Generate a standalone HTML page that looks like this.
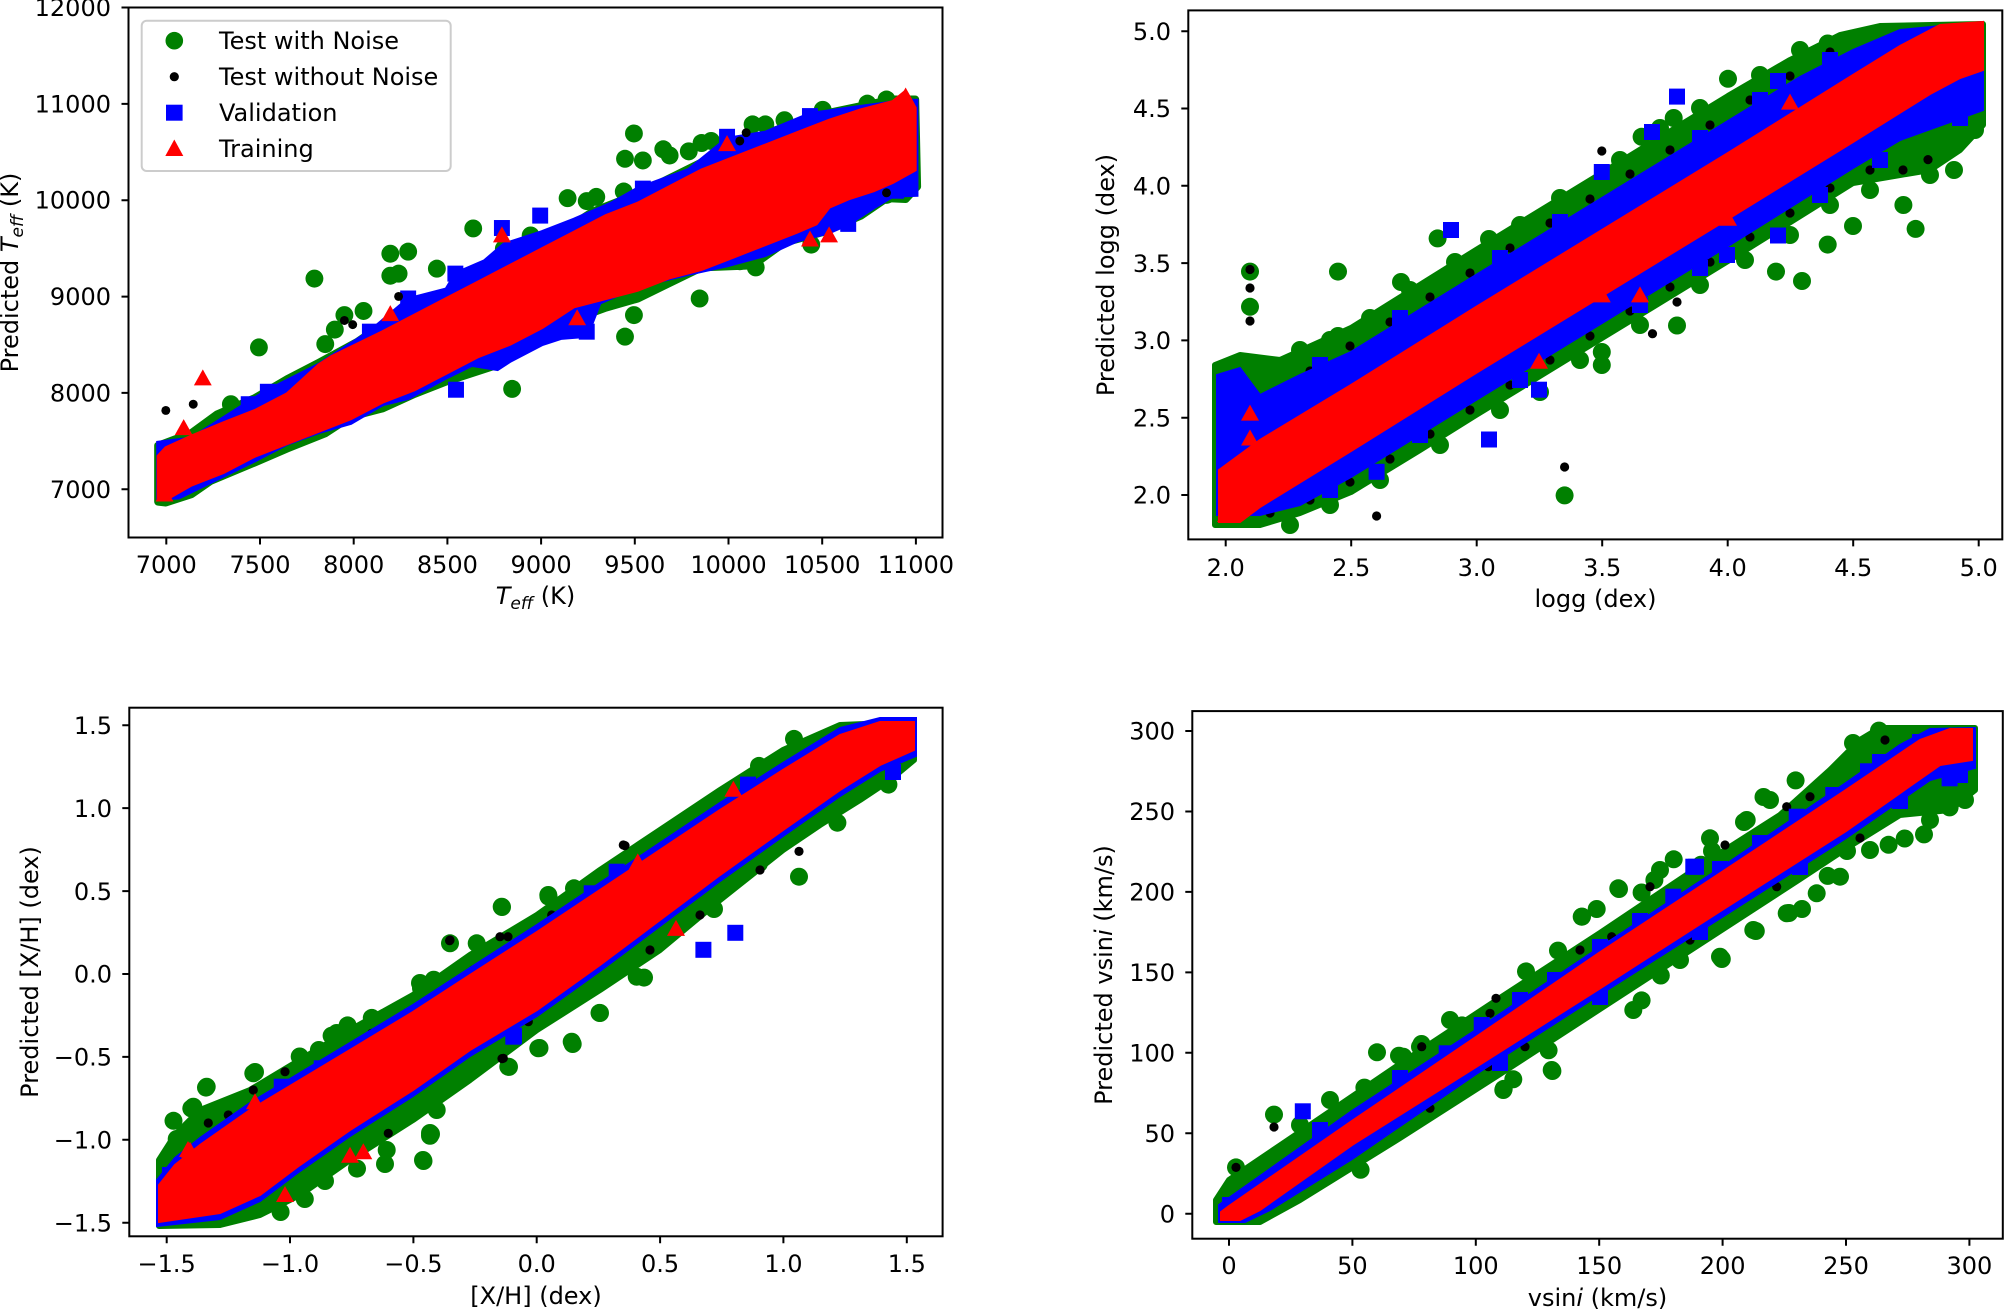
<!DOCTYPE html>
<html><head><meta charset="utf-8">
<style>
html,body{margin:0;padding:0;background:#fff;}
body{width:2006px;height:1311px;overflow:hidden;}
svg{display:block;}
text{font-family:"DejaVu Sans","Liberation Sans",sans-serif;font-size:24px;fill:#000;}
</style></head>
<body>
<svg width="2006" height="1311" viewBox="0 0 2006 1311" xmlns="http://www.w3.org/2000/svg">
<defs>
<ellipse id="c" rx="14" ry="21.7" fill="#008000"/>
<ellipse id="k" rx="7" ry="10.8" fill="#000"/>
<rect id="s" x="-12.5" y="-19.3" width="25" height="38.6" fill="#0000ff"/>
<path id="t" d="M0 -24 L14 14.6 L-14 14.6Z" fill="#ff0000"/>
<circle id="C" r="9" fill="#008000"/>
<circle id="K" r="4.6" fill="#000"/>
<rect id="S" x="-8" y="-8" width="16" height="16" fill="#0000ff"/>
<path id="T" d="M0 -10 L9 6 L-9 6Z" fill="#ff0000"/>
</defs>

<!-- ================= PLOT 1 ================= -->
<g transform="translate(0,0) scale(0.63776,0.41459)">
<polygon fill="#008000" stroke="#008000" stroke-width="8" stroke-linejoin="round" vector-effect="non-scaling-stroke" points="248,1075 300,1045 340,1000 400,960 450,915 500,875 560,825 640,740 700,705 770,650 850,590 930,510 1000,468 1100,392 1200,322 1300,272 1400,240 1435,240 1438,450 1420,480 1390,478 1350,520 1290,560 1230,585 1180,640 1100,645 1040,690 1000,720 950,742 900,770 850,805 780,880 700,920 650,950 600,985 550,1005 510,1045 450,1082 400,1115 330,1160 300,1192 260,1212 248,1210"/>
<g>
<use href="#c" x="493" y="672"/><use href="#c" x="406" y="838"/><use href="#c" x="612" y="612"/><use href="#c" x="640" y="607"/><use href="#c" x="612" y="665"/><use href="#c" x="625" y="660"/><use href="#c" x="685" y="648"/><use href="#c" x="742" y="551"/><use href="#c" x="832" y="568"/><use href="#c" x="890" y="478"/><use href="#c" x="920" y="485"/><use href="#c" x="935" y="475"/><use href="#c" x="978" y="462"/><use href="#c" x="994" y="322"/><use href="#c" x="980" y="383"/><use href="#c" x="1008" y="387"/><use href="#c" x="1040" y="360"/><use href="#c" x="1050" y="375"/><use href="#c" x="1080" y="365"/><use href="#c" x="1100" y="345"/><use href="#c" x="1115" y="340"/><use href="#c" x="1180" y="300"/><use href="#c" x="1200" y="300"/><use href="#c" x="1230" y="290"/><use href="#c" x="1290" y="265"/><use href="#c" x="1360" y="250"/><use href="#c" x="1390" y="240"/><use href="#c" x="1097" y="720"/><use href="#c" x="994" y="760"/><use href="#c" x="980" y="812"/><use href="#c" x="803" y="938"/><use href="#c" x="1185" y="645"/><use href="#c" x="1160" y="630"/><use href="#c" x="1272" y="590"/><use href="#c" x="1390" y="470"/><use href="#c" x="1420" y="445"/><use href="#c" x="362" y="975"/><use href="#c" x="525" y="795"/><use href="#c" x="510" y="830"/><use href="#c" x="570" y="750"/><use href="#c" x="540" y="760"/><use href="#c" x="790" y="600"/><use href="#c" x="830" y="600"/>
</g>
<polygon fill="#0000ff" stroke="#0000ff" stroke-width="4" vector-effect="non-scaling-stroke" points="248,1068 300,1058 390,970 420,942 500,880 580,800 640,722 700,698 715,660 760,630 790,590 850,560 900,530 960,490 1000,455 1080,410 1140,335 1200,320 1270,275 1330,262 1420,243 1437,243 1437,470 1400,472 1370,500 1330,540 1300,560 1250,580 1200,615 1140,640 1080,660 1000,690 940,730 920,810 880,815 850,830 800,870 780,890 740,880 700,910 640,960 600,975 550,1020 500,1042 450,1070 400,1110 320,1170 280,1200 248,1202"/>
<g>
<use href="#s" x="715" y="940"/><use href="#s" x="920" y="800"/><use href="#s" x="847" y="520"/><use href="#s" x="787" y="550"/><use href="#s" x="714" y="660"/><use href="#s" x="1008" y="455"/><use href="#s" x="1140" y="330"/><use href="#s" x="1270" y="280"/><use href="#s" x="1405" y="460"/><use href="#s" x="390" y="975"/><use href="#s" x="420" y="945"/><use href="#s" x="580" y="800"/><use href="#s" x="640" y="720"/><use href="#s" x="1330" y="540"/><use href="#s" x="1340" y="500"/>
</g>
<g>
<use href="#k" x="260" y="990"/><use href="#k" x="303" y="975"/><use href="#k" x="540" y="773"/><use href="#k" x="553" y="783"/><use href="#k" x="625" y="715"/><use href="#k" x="1170" y="320"/><use href="#k" x="1390" y="465"/><use href="#k" x="1160" y="340"/>
</g>
<polygon fill="#ff0000" stroke="#ff0000" stroke-width="3" vector-effect="non-scaling-stroke" points="248,1100 260,1080 300,1052 350,1020 400,990 450,950 500,880 520,860 600,800 650,760 700,720 750,680 800,640 850,600 900,560 950,520 1000,490 1050,450 1100,410 1150,380 1200,350 1250,320 1300,290 1350,265 1400,245 1420,220 1435,260 1435,410 1400,440 1370,460 1330,480 1300,500 1280,540 1250,560 1200,590 1150,620 1100,650 1050,670 1000,700 950,720 900,740 850,790 800,830 750,860 700,900 650,940 600,970 550,1010 500,1040 450,1070 400,1100 350,1140 300,1170 260,1205 248,1205"/>
<g>
<use href="#t" x="318" y="915"/><use href="#t" x="288" y="1035"/><use href="#t" x="612" y="760"/><use href="#t" x="787" y="570"/><use href="#t" x="905" y="770"/><use href="#t" x="1270" y="580"/><use href="#t" x="1300" y="570"/><use href="#t" x="1140" y="350"/><use href="#t" x="1420" y="235"/><use href="#t" x="258" y="1195"/>
</g>
</g>

<!-- axes 1 -->
<g stroke="#000" stroke-width="2" fill="none">
<rect x="128.5" y="7.5" width="814" height="530"/>
<path d="M166.3 537.5v7M260 537.5v7M353.7 537.5v7M447.4 537.5v7M541.1 537.5v7M634.8 537.5v7M728.5 537.5v7M822.2 537.5v7M915.9 537.5v7"/>
<path d="M128.5 489.3h-7M128.5 392.9h-7M128.5 296.6h-7M128.5 200.2h-7M128.5 103.9h-7M128.5 7.5h-7"/>
</g>
<g text-anchor="middle">
<text x="166.3" y="573">7000</text><text x="260" y="573">7500</text><text x="353.7" y="573">8000</text><text x="447.4" y="573">8500</text><text x="541.1" y="573">9000</text><text x="634.8" y="573">9500</text><text x="728.5" y="573">10000</text><text x="822.2" y="573">10500</text><text x="915.9" y="573">11000</text>
</g>
<g text-anchor="end">
<text x="111" y="498">7000</text><text x="111" y="401.5">8000</text><text x="111" y="305">9000</text><text x="111" y="208.7">10000</text><text x="111" y="112.4">11000</text><text x="111" y="16">12000</text>
</g>
<text x="535.5" y="604" text-anchor="middle"><tspan font-style="italic">T</tspan><tspan font-style="italic" font-size="17" dy="5">eff</tspan><tspan dy="-5"> (K)</tspan></text>
<text transform="translate(18,272.5) rotate(-90)" text-anchor="middle">Predicted <tspan font-style="italic">T</tspan><tspan font-style="italic" font-size="17" dy="5">eff</tspan><tspan dy="-5"> (K)</tspan></text>

<!-- legend -->
<rect x="141.7" y="20.7" width="309" height="150.3" rx="5" ry="5" fill="#fff" fill-opacity="0.85" stroke="#cccccc" stroke-width="2"/>
<circle cx="174.3" cy="40.7" r="8.8" fill="#008000"/>
<circle cx="174.3" cy="76.7" r="4.6" fill="#000"/>
<rect x="166" y="104.7" width="16.6" height="16" fill="#0000ff"/>
<path d="M174.3 139.5 L183.3 156 L165.3 156Z" fill="#ff0000"/>
<text x="219" y="49">Test with Noise</text>
<text x="219" y="85">Test without Noise</text>
<text x="219" y="121">Validation</text>
<text x="219" y="157">Training</text>

<!-- ================= PLOT 2 (pixel coords) ================= -->
<g>
<polygon fill="#008000" stroke="#008000" stroke-width="6" stroke-linejoin="round" points="1215,365 1240,355 1280,360 1351,328 1476,250 1602,173 1728,96 1790,60 1840,35 1880,26 1983,24 1983,125 1960,150 1930,170 1900,175 1853,183 1728,261 1602,338 1476,415 1420,450 1351,492 1300,513 1260,525 1215,525"/>
<use href="#C" x="1224.6" y="373"/><use href="#C" x="1250" y="271.6"/><use href="#C" x="1250" y="306.8"/><use href="#C" x="1338" y="271.6"/><use href="#C" x="1401" y="282"/><use href="#C" x="1338" y="336"/><use href="#C" x="1437.6" y="238.4"/><use href="#C" x="1489" y="239"/><use href="#C" x="1601.8" y="352"/><use href="#C" x="1601.8" y="365"/><use href="#C" x="1564.6" y="495.4"/><use href="#C" x="1677" y="325.5"/><use href="#C" x="1776" y="271.6"/><use href="#C" x="1802" y="281"/><use href="#C" x="1827.7" y="244.6"/><use href="#C" x="1853" y="226"/><use href="#C" x="1915.6" y="228.9"/><use href="#C" x="1903.4" y="205"/><use href="#C" x="1728" y="78.8"/><use href="#C" x="1827.7" y="43.5"/><use href="#C" x="1954" y="170"/><use href="#C" x="1954" y="141"/><use href="#C" x="1641.6" y="136.8"/><use href="#C" x="1673.7" y="118"/><use href="#C" x="1693" y="151"/>
<use href="#C" x="1300" y="350"/><use href="#C" x="1330" y="340"/><use href="#C" x="1370" y="318"/><use href="#C" x="1410" y="290"/><use href="#C" x="1455" y="262"/><use href="#C" x="1520" y="225"/><use href="#C" x="1560" y="198"/><use href="#C" x="1620" y="160"/><use href="#C" x="1660" y="128"/><use href="#C" x="1700" y="108"/><use href="#C" x="1760" y="75"/><use href="#C" x="1800" y="50"/>
<use href="#C" x="1290" y="525"/><use href="#C" x="1330" y="505"/><use href="#C" x="1380" y="480"/><use href="#C" x="1440" y="445"/><use href="#C" x="1500" y="410"/><use href="#C" x="1540" y="392"/><use href="#C" x="1580" y="360"/><use href="#C" x="1640" y="325"/><use href="#C" x="1700" y="285"/><use href="#C" x="1745" y="260"/><use href="#C" x="1790" y="235"/><use href="#C" x="1830" y="205"/><use href="#C" x="1870" y="190"/><use href="#C" x="1930" y="175"/><use href="#C" x="1975" y="130"/><use href="#C" x="1975" y="110"/>
</g>
<g>
<use href="#K" x="1250" y="269.5"/><use href="#K" x="1250" y="288"/><use href="#K" x="1250" y="321"/><use href="#K" x="1376.6" y="516"/><use href="#K" x="1564.6" y="467"/><use href="#K" x="1601.8" y="151"/><use href="#K" x="1652.5" y="333.7"/><use href="#K" x="1677" y="302"/><use href="#K" x="1928" y="159.6"/><use href="#K" x="1903" y="170"/>
<use href="#K" x="1270" y="396"/><use href="#K" x="1310" y="371"/><use href="#K" x="1350" y="346"/><use href="#K" x="1390" y="322"/><use href="#K" x="1430" y="297"/><use href="#K" x="1470" y="273"/><use href="#K" x="1510" y="248"/><use href="#K" x="1550" y="223"/><use href="#K" x="1590" y="199"/><use href="#K" x="1630" y="174"/><use href="#K" x="1670" y="150"/><use href="#K" x="1710" y="125"/><use href="#K" x="1750" y="100"/><use href="#K" x="1790" y="76"/><use href="#K" x="1830" y="52"/>
<use href="#K" x="1270" y="513"/><use href="#K" x="1310" y="500"/><use href="#K" x="1350" y="482"/><use href="#K" x="1390" y="459"/><use href="#K" x="1430" y="434"/><use href="#K" x="1470" y="410"/><use href="#K" x="1510" y="385"/><use href="#K" x="1550" y="360"/><use href="#K" x="1590" y="336"/><use href="#K" x="1630" y="311"/><use href="#K" x="1670" y="287"/><use href="#K" x="1710" y="262"/><use href="#K" x="1750" y="237"/><use href="#K" x="1790" y="213"/><use href="#K" x="1830" y="188"/><use href="#K" x="1870" y="170"/><use href="#K" x="1950" y="118"/>
</g>
<g>
<polygon fill="#0000ff" stroke="#0000ff" stroke-width="2" points="1217,375 1240,368 1260,395 1300,375 1351,352 1476,275 1602,198 1728,121 1800,77 1853,50 1900,30 1983,22 1983,110 1950,122 1900,140 1853,168 1728,246 1602,323 1476,400 1351,477 1300,505 1260,515 1217,515"/>
<use href="#S" x="1451" y="230"/><use href="#S" x="1677" y="96.6"/><use href="#S" x="1652" y="132"/><use href="#S" x="1601.8" y="172"/><use href="#S" x="1778" y="81"/><use href="#S" x="1489" y="439.5"/><use href="#S" x="1376.6" y="471.8"/><use href="#S" x="1727" y="255"/><use href="#S" x="1778" y="235.5"/><use href="#S" x="1539" y="389.7"/><use href="#S" x="1226" y="410"/><use href="#S" x="1237" y="392"/>
<use href="#S" x="1320" y="365"/><use href="#S" x="1400" y="318"/><use href="#S" x="1500" y="258"/><use href="#S" x="1560" y="222"/><use href="#S" x="1700" y="138"/><use href="#S" x="1760" y="100"/><use href="#S" x="1830" y="60"/>
<use href="#S" x="1330" y="490"/><use href="#S" x="1420" y="435"/><use href="#S" x="1520" y="380"/><use href="#S" x="1640" y="305"/><use href="#S" x="1700" y="268"/><use href="#S" x="1820" y="195"/><use href="#S" x="1880" y="160"/><use href="#S" x="1960" y="118"/>
</g>
<g>
<polygon fill="#ff0000" stroke="#ff0000" stroke-width="2" points="1219,470 1260,440 1351,385 1476,307 1602,230 1728,153 1853,75 1900,46 1940,25 1983,22 1983,70 1960,78 1930,94 1853,142 1728,219 1602,296 1476,373 1351,451 1260,507 1240,522 1219,522"/>
<use href="#T" x="1250" y="414.6"/><use href="#T" x="1250" y="439.5"/><use href="#T" x="1539" y="362.8"/><use href="#T" x="1601.8" y="296.4"/><use href="#T" x="1640" y="296.4"/><use href="#T" x="1728" y="219.7"/><use href="#T" x="1790" y="103.6"/><use href="#T" x="1226" y="516"/>
</g>

<!-- axes 2 -->
<g stroke="#000" stroke-width="2" fill="none">
<rect x="1188.3" y="10.4" width="814" height="529"/>
<path d="M1225.7 539.4v7M1351.2 539.4v7M1476.7 539.4v7M1602.2 539.4v7M1727.7 539.4v7M1853.2 539.4v7M1978.7 539.4v7"/>
<path d="M1188.3 495h-7M1188.3 417.7h-7M1188.3 340.4h-7M1188.3 263.1h-7M1188.3 185.8h-7M1188.3 108.5h-7M1188.3 31.2h-7"/>
</g>
<g text-anchor="middle">
<text x="1225.7" y="576">2.0</text><text x="1351.2" y="576">2.5</text><text x="1476.7" y="576">3.0</text><text x="1602.2" y="576">3.5</text><text x="1727.7" y="576">4.0</text><text x="1853.2" y="576">4.5</text><text x="1978.7" y="576">5.0</text>
</g>
<g text-anchor="end">
<text x="1171" y="503.7">2.0</text><text x="1171" y="426.4">2.5</text><text x="1171" y="349.1">3.0</text><text x="1171" y="271.8">3.5</text><text x="1171" y="194.5">4.0</text><text x="1171" y="117.2">4.5</text><text x="1171" y="39.9">5.0</text>
</g>
<text x="1595.5" y="607" text-anchor="middle">logg (dex)</text>
<text transform="translate(1114,275) rotate(-90)" text-anchor="middle">Predicted logg (dex)</text>

<!-- ================= PLOT 3 (pixel coords) ================= -->
<g>
<polygon fill="#008000" stroke="#008000" stroke-width="6" stroke-linejoin="round" points="159,1160 175,1135 200,1110 250,1090 300,1060 350,1030 413,995 470,955 537,915 600,870 660,830 720,790 783,750 840,725 914,722 914,760 890,780 860,800 820,825 783,850 720,900 660,950 600,990 537,1030 470,1080 413,1120 350,1160 300,1195 260,1215 220,1225 159,1226"/>
<use href="#C" x="173.5" y="1120.8"/><use href="#C" x="191.3" y="1108.4"/><use href="#C" x="206" y="1087.6"/><use href="#C" x="255" y="1072"/><use href="#C" x="347.6" y="1025.4"/><use href="#C" x="371.8" y="1017.9"/><use href="#C" x="421" y="988"/><use href="#C" x="433.7" y="979.7"/><use href="#C" x="502" y="907"/><use href="#C" x="548.5" y="896.6"/><use href="#C" x="574" y="888.3"/><use href="#C" x="602.7" y="909"/><use href="#C" x="644" y="977.6"/><use href="#C" x="599.5" y="1012.9"/><use href="#C" x="572.7" y="1044"/><use href="#C" x="539.5" y="1048"/><use href="#C" x="509" y="1066.9"/><use href="#C" x="423.5" y="1161"/><use href="#C" x="431" y="1134"/><use href="#C" x="385" y="1164"/><use href="#C" x="759" y="863.4"/><use href="#C" x="799" y="876.7"/><use href="#C" x="837.4" y="822.7"/><use href="#C" x="888.4" y="784.6"/><use href="#C" x="714" y="909"/><use href="#C" x="688.8" y="875.9"/><use href="#C" x="711" y="815.7"/><use href="#C" x="720.7" y="803"/><use href="#C" x="759" y="765.9"/><use href="#C" x="774.9" y="763.8"/><use href="#C" x="794" y="738.9"/><use href="#C" x="299.7" y="1056.5"/><use href="#C" x="318.9" y="1050"/><use href="#C" x="331.6" y="1035.7"/><use href="#C" x="357" y="1168.6"/><use href="#C" x="325" y="1181"/><use href="#C" x="304.8" y="1199"/><use href="#C" x="280.6" y="1212"/><use href="#C" x="176.7" y="1139"/><use href="#C" x="430" y="1135.8"/>
<use href="#C" x="501.7" y="906.7"/><use href="#C" x="450" y="943.3"/><use href="#C" x="476.7" y="943.3"/><use href="#C" x="548.3" y="895"/><use href="#C" x="575" y="890"/><use href="#C" x="600" y="1013"/><use href="#C" x="571.7" y="1041.7"/><use href="#C" x="538.3" y="1048.3"/><use href="#C" x="508.3" y="1066.7"/><use href="#C" x="436.7" y="1110"/><use href="#C" x="430" y="1133"/><use href="#C" x="423" y="1160"/><use href="#C" x="253.3" y="1073.3"/><use href="#C" x="206.7" y="1086.7"/><use href="#C" x="193.3" y="1106.7"/><use href="#C" x="386.7" y="1150"/><use href="#C" x="350" y="1033.3"/><use href="#C" x="336.7" y="1033"/><use href="#C" x="420" y="983"/><use href="#C" x="636.7" y="976.7"/>
</g>
<g>
<use href="#K" x="623.3" y="845"/><use href="#K" x="450" y="940"/><use href="#K" x="500" y="936.7"/><use href="#K" x="508" y="936.7"/><use href="#K" x="551.7" y="915"/><use href="#K" x="473.3" y="970"/><use href="#K" x="371.7" y="1033.3"/><use href="#K" x="285" y="1071.7"/><use href="#K" x="253.3" y="1090"/><use href="#K" x="228.3" y="1115"/><use href="#K" x="208.3" y="1123"/><use href="#K" x="503.3" y="1058.3"/><use href="#K" x="388.3" y="1133.3"/><use href="#K" x="528.3" y="1021.7"/><use href="#K" x="449.6" y="940.7"/><use href="#K" x="625" y="845.6"/><use href="#K" x="799" y="851.4"/><use href="#K" x="502" y="1058.6"/><use href="#K" x="680" y="855"/><use href="#K" x="730" y="825"/><use href="#K" x="770" y="790"/><use href="#K" x="650" y="950"/><use href="#K" x="700" y="915"/><use href="#K" x="760" y="870"/>
</g>
<g>
<polygon fill="#0000ff" stroke="#0000ff" stroke-width="2" points="157,1180 175,1158 200,1138 250,1103 300,1073 350,1043 413,1005 470,968 537,925 600,883 660,843 720,803 783,763 840,728 880,718 916,718 916,756 880,771 840,796 783,836 720,881 660,926 600,971 537,1016 470,1056 413,1096 350,1136 300,1171 260,1201 220,1219 157,1226"/>
<use href="#S" x="321.7" y="1068.3"/><use href="#S" x="281.7" y="1086.7"/><use href="#S" x="616.7" y="871.7"/><use href="#S" x="513.3" y="1036.7"/><use href="#S" x="591.7" y="893.3"/><use href="#S" x="251.7" y="1130"/><use href="#S" x="703.4" y="949.8"/><use href="#S" x="735.3" y="932.8"/><use href="#S" x="514" y="1035.7"/><use href="#S" x="748" y="784.6"/><use href="#S" x="893" y="772"/><use href="#S" x="170" y="1175"/>
</g>
<g>
<polygon fill="#ff0000" stroke="#ff0000" stroke-width="2" points="159,1185 175,1165 200,1145 250,1110 300,1080 350,1050 413,1012 470,975 537,932 600,890 660,850 720,810 783,770 840,735 880,722 914,722 914,750 880,765 840,790 783,830 720,875 660,920 600,965 537,1010 470,1050 413,1090 350,1130 300,1165 260,1195 220,1213 159,1222"/>
<use href="#T" x="255" y="1103.3"/><use href="#T" x="190" y="1151.7"/><use href="#T" x="221.7" y="1138.3"/><use href="#T" x="350" y="1156.7"/><use href="#T" x="363.3" y="1153.3"/><use href="#T" x="733.4" y="790.8"/><use href="#T" x="676" y="929.9"/><use href="#T" x="637.8" y="863.4"/><use href="#T" x="188" y="1151"/><use href="#T" x="215.7" y="1156"/><use href="#T" x="285" y="1196"/><use href="#T" x="168" y="1212"/>
</g>

<!-- axes 3 -->
<g stroke="#000" stroke-width="2" fill="none">
<rect x="129.3" y="707.7" width="813.3" height="528.6"/>
<path d="M166.7 1236.3v7M290 1236.3v7M413.4 1236.3v7M536.7 1236.3v7M660.1 1236.3v7M783.4 1236.3v7M906.8 1236.3v7"/>
<path d="M129.3 1222.7h-7M129.3 1139.8h-7M129.3 1056.9h-7M129.3 974h-7M129.3 891.1h-7M129.3 808.1h-7M129.3 725.2h-7"/>
</g>
<g text-anchor="middle">
<text x="166.7" y="1272">−1.5</text><text x="290" y="1272">−1.0</text><text x="413.4" y="1272">−0.5</text><text x="536.7" y="1272">0.0</text><text x="660.1" y="1272">0.5</text><text x="783.4" y="1272">1.0</text><text x="906.8" y="1272">1.5</text>
</g>
<g text-anchor="end">
<text x="112" y="1231.4">−1.5</text><text x="112" y="1148.5">−1.0</text><text x="112" y="1065.6">−0.5</text><text x="112" y="982.7">0.0</text><text x="112" y="899.8">0.5</text><text x="112" y="816.8">1.0</text><text x="112" y="733.9">1.5</text>
</g>
<text x="536" y="1304" text-anchor="middle">[X/H] (dex)</text>
<text transform="translate(38,972) rotate(-90)" text-anchor="middle">Predicted [X/H] (dex)</text>

<!-- ================= PLOT 4 (pixel coords) ================= -->
<g>
<polygon fill="#008000" stroke="#008000" stroke-width="6" stroke-linejoin="round" points="1216,1200 1229,1180 1300,1132 1400,1064 1500,998 1600,933 1700,866 1780,815 1830,770 1860,740 1880,728 1975,728 1975,790 1950,810 1900,815 1850,846 1800,879 1700,944 1600,1009 1500,1074 1400,1138 1300,1200 1260,1222 1216,1222"/>
<use href="#C" x="1274" y="1114.6"/><use href="#C" x="1236" y="1167.4"/><use href="#C" x="1377" y="1052.3"/><use href="#C" x="1399" y="1055.7"/><use href="#C" x="1421.5" y="1044"/><use href="#C" x="1364.4" y="1087.6"/><use href="#C" x="1360.6" y="1169.8"/><use href="#C" x="1503.7" y="1088.9"/><use href="#C" x="1552.4" y="1071"/><use href="#C" x="1548.6" y="1050.3"/><use href="#C" x="1582" y="916.6"/><use href="#C" x="1619" y="889"/><use href="#C" x="1654.4" y="880"/><use href="#C" x="1673.7" y="859.3"/><use href="#C" x="1701" y="864.7"/><use href="#C" x="1721.8" y="959"/><use href="#C" x="1755.8" y="931"/><use href="#C" x="1789" y="913"/><use href="#C" x="1827.7" y="875.9"/><use href="#C" x="1888.6" y="844.8"/><use href="#C" x="1904.7" y="838.5"/><use href="#C" x="1949.6" y="807.4"/><use href="#C" x="1965.6" y="780.4"/><use href="#C" x="1526" y="971.4"/><use href="#C" x="1558" y="950.6"/><use href="#C" x="1596.7" y="909"/><use href="#C" x="1641.6" y="892.5"/><use href="#C" x="1744" y="822"/><use href="#C" x="1763.5" y="797"/><use href="#C" x="1795.6" y="780.4"/><use href="#C" x="1802" y="909"/><use href="#C" x="1847" y="851"/><use href="#C" x="1924" y="834.4"/><use href="#C" x="1879" y="730.6"/><use href="#C" x="1853" y="743"/><use href="#C" x="1423.5" y="1075"/><use href="#C" x="1462" y="1025.4"/><use href="#C" x="1474.8" y="1054.4"/><use href="#C" x="1513.3" y="1079.3"/><use href="#C" x="1449" y="1091.8"/><use href="#C" x="1712" y="851"/><use href="#C" x="1641.6" y="1000.4"/><use href="#C" x="1616" y="983.8"/><use href="#C" x="1660.8" y="975.5"/>
<use href="#C" x="1618.3" y="888.3"/><use href="#C" x="1581.7" y="916.7"/><use href="#C" x="1710" y="838.3"/><use href="#C" x="1770" y="800"/><use href="#C" x="1746.7" y="820"/><use href="#C" x="1503.3" y="1090"/><use href="#C" x="1551.7" y="1070"/><use href="#C" x="1633.3" y="1010"/><use href="#C" x="1720" y="956.7"/><use href="#C" x="1753.3" y="930"/><use href="#C" x="1786.7" y="913.3"/><use href="#C" x="1816.7" y="893.3"/><use href="#C" x="1840" y="876.7"/><use href="#C" x="1420" y="1046.7"/><use href="#C" x="1403.3" y="1056.7"/>
<use href="#C" x="1900" y="742"/><use href="#C" x="1930" y="735"/><use href="#C" x="1960" y="735"/><use href="#C" x="1965" y="800"/><use href="#C" x="1930" y="820"/><use href="#C" x="1870" y="850"/><use href="#C" x="1820" y="790"/><use href="#C" x="1330" y="1100"/><use href="#C" x="1300" y="1125"/><use href="#C" x="1450" y="1020"/><use href="#C" x="1660" y="870"/><use href="#C" x="1680" y="960"/>
</g>
<g>
<use href="#K" x="1236" y="1167.4"/><use href="#K" x="1274" y="1127"/><use href="#K" x="1496" y="998.3"/><use href="#K" x="1490" y="1013.3"/><use href="#K" x="1421.7" y="1046.7"/><use href="#K" x="1580" y="950"/><use href="#K" x="1611.7" y="936.7"/><use href="#K" x="1650" y="886.7"/><use href="#K" x="1725" y="845"/><use href="#K" x="1786.7" y="806.7"/><use href="#K" x="1810" y="796.7"/><use href="#K" x="1690" y="940"/><use href="#K" x="1776.7" y="886.7"/><use href="#K" x="1525" y="1046.7"/><use href="#K" x="1488.3" y="1066.7"/><use href="#K" x="1430" y="1108.3"/><use href="#K" x="1885" y="740"/><use href="#K" x="1940" y="765"/><use href="#K" x="1900" y="800"/><use href="#K" x="1860" y="838"/>
</g>
<g>
<polygon fill="#0000ff" stroke="#0000ff" stroke-width="2" points="1219,1205 1229,1198 1352,1111 1476,1030 1599,948 1722,867 1846,783 1900,745 1930,729 1975,728 1975,768 1930,780 1846,838 1722,917 1599,995 1476,1074 1352,1159 1270,1210 1245,1222 1219,1222"/>
<use href="#S" x="1302.8" y="1111.3"/><use href="#S" x="1696" y="866.8"/><use href="#S" x="1868" y="771.3"/><use href="#S" x="1949.6" y="778.3"/><use href="#S" x="1693.3" y="866.7"/><use href="#S" x="1673.3" y="896.7"/><use href="#S" x="1796.7" y="816.7"/><use href="#S" x="1833.3" y="795"/><use href="#S" x="1481.7" y="1025"/><use href="#S" x="1446.7" y="1053.3"/><use href="#S" x="1555" y="980"/>
<use href="#S" x="1320" y="1130"/><use href="#S" x="1400" y="1078"/><use href="#S" x="1520" y="1000"/><use href="#S" x="1600" y="947"/><use href="#S" x="1640" y="921"/><use href="#S" x="1720" y="869"/><use href="#S" x="1760" y="843"/><use href="#S" x="1880" y="762"/><use href="#S" x="1920" y="742"/><use href="#S" x="1230" y="1205"/>
<use href="#S" x="1500" y="1063"/><use href="#S" x="1600" y="997"/><use href="#S" x="1700" y="932"/><use href="#S" x="1800" y="867"/><use href="#S" x="1900" y="801"/><use href="#S" x="1960" y="775"/>
</g>
<polygon fill="#ff0000" stroke="#ff0000" stroke-width="2" points="1221,1212 1229,1206 1352,1121 1476,1037 1599,953 1722,872 1846,790 1920,740 1950,729 1972,729 1972,760 1940,765 1846,831 1722,910 1599,989 1476,1067 1352,1145 1260,1210 1240,1220 1221,1220"/>

<!-- axes 4 -->
<g stroke="#000" stroke-width="2" fill="none">
<rect x="1192.3" y="711.1" width="810.5" height="527.6"/>
<path d="M1229 1238.7v7M1352.4 1238.7v7M1475.8 1238.7v7M1599.2 1238.7v7M1722.6 1238.7v7M1846 1238.7v7M1969.4 1238.7v7"/>
<path d="M1192.3 1213.7h-7M1192.3 1133.3h-7M1192.3 1052.8h-7M1192.3 972.4h-7M1192.3 891.9h-7M1192.3 811.5h-7M1192.3 731h-7"/>
</g>
<g text-anchor="middle">
<text x="1229" y="1274">0</text><text x="1352.4" y="1274">50</text><text x="1475.8" y="1274">100</text><text x="1599.2" y="1274">150</text><text x="1722.6" y="1274">200</text><text x="1846" y="1274">250</text><text x="1969.4" y="1274">300</text>
</g>
<g text-anchor="end">
<text x="1175" y="1222.4">0</text><text x="1175" y="1142">50</text><text x="1175" y="1061.5">100</text><text x="1175" y="981.1">150</text><text x="1175" y="900.6">200</text><text x="1175" y="820.2">250</text><text x="1175" y="739.7">300</text>
</g>
<text x="1597.5" y="1306" text-anchor="middle">vsin<tspan font-style="italic">i</tspan> (km/s)</text>
<text transform="translate(1112,975) rotate(-90)" text-anchor="middle">Predicted vsin<tspan font-style="italic">i</tspan> (km/s)</text>
</svg>
</body></html>
